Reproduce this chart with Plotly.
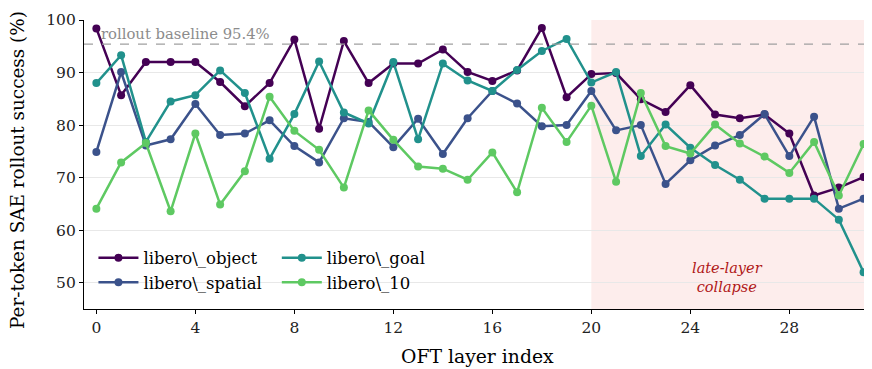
import plotly.graph_objects as go

layers = list(range(32))
libero_object = [98.4, 85.7, 92.0, 92.0, 92.0, 88.2, 83.6, 88.0, 96.3, 79.3, 96.0, 88.0,
                 91.7, 91.7, 94.4, 90.1, 88.4, 90.4, 98.5, 85.3, 89.7, 89.9, 84.9, 82.5,
                 87.6, 82.0, 81.3, 82.0, 78.4, 66.6, 68.1, 70.1]
libero_spatial = [74.9, 90.1, 76.1, 77.3, 84.0, 78.1, 78.4, 80.9, 76.0, 72.9, 81.3, 80.6,
                  75.8, 81.2, 74.5, 81.3, 86.5, 84.1, 79.8, 80.0, 86.5, 79.0, 80.0, 68.8,
                  73.3, 76.1, 78.1, 82.1, 74.1, 81.6, 64.1, 66.0]
libero_goal = [88.0, 93.3, 76.8, 84.5, 85.7, 90.4, 86.1, 73.6, 82.1, 92.1, 82.4, 80.3,
               92.0, 77.3, 91.7, 88.5, 86.5, 90.5, 94.1, 96.4, 88.1, 90.1, 74.1, 80.1,
               75.7, 72.4, 69.6, 66.0, 66.0, 66.0, 62.0, 52.0]
libero_10 = [64.1, 72.9, 76.6, 63.6, 78.4, 64.9, 71.2, 85.4, 78.9, 75.3, 68.1, 82.8,
             77.2, 72.1, 71.7, 69.6, 74.8, 67.2, 83.3, 76.8, 83.7, 69.2, 86.1, 76.0,
             74.6, 80.1, 76.5, 74.0, 70.9, 76.8, 66.6, 76.4]

series = [("libero\\_object", libero_object, "#440154", "legend"),
          ("libero\\_spatial", libero_spatial, "#3b528b", "legend"),
          ("libero\\_goal", libero_goal, "#21918c", "legend2"),
          ("libero\\_10", libero_10, "#5ec962", "legend2")]

baseline = 95.4
collapse_start, collapse_end = 20, 31.05
x_ticks = [0, 4, 8, 12, 16, 20, 24, 28]
y_ticks = [50, 60, 70, 80, 90, 100]

FONT = "DejaVu Serif"
fig = go.Figure()
for name, vals, col, lg in series:
    fig.add_trace(go.Scatter(x=layers, y=vals, mode="lines+markers", name=name,
                             line=dict(color=col, width=2.5),
                             marker=dict(color=col, size=8), legend=lg))

fig.add_shape(type="rect", xref="x", yref="paper", x0=collapse_start, x1=collapse_end,
              y0=0, y1=1, fillcolor="rgba(235,90,80,0.11)", line=dict(width=0), layer="below")
fig.add_shape(type="line", xref="paper", yref="y", x0=0, x1=1, y0=baseline, y1=baseline,
              line=dict(color="#a0a0a0", width=1.3, dash="dash"))
fig.add_annotation(x=0.12, y=baseline, xref="x", yref="y", text=f"rollout baseline {baseline}%",
                   showarrow=False, xanchor="left", yanchor="bottom",
                   font=dict(family=FONT, size=14.8, color="#8c8c8c"), yshift=0)
fig.add_annotation(x=25.5, y=51.0, xref="x", yref="y", text="<i>late-layer<br>collapse</i>",
                   showarrow=False, xanchor="center", yanchor="middle",
                   font=dict(family=FONT, size=14.5, color="#b01818"))
# axis titles
fig.add_annotation(x=0.5, y=-0.163, xref="paper", yref="paper", text="OFT layer index",
                   showarrow=False, xanchor="center", yanchor="middle",
                   font=dict(family=FONT, size=18.8, color="black"))
fig.add_annotation(x=-0.0839, y=0.481, xref="paper", yref="paper",
                   text="Per-token SAE rollout success (%)", textangle=-90,
                   showarrow=False, xanchor="center", yanchor="middle",
                   font=dict(family=FONT, size=18.4, color="black"))

legend_common = dict(orientation="v", xanchor="left", yanchor="middle",
                     bgcolor="rgba(255,255,255,0)", font=dict(family=FONT, size=16.5),
                     tracegroupgap=0, itemwidth=40)
fig.update_layout(
    width=872, height=369,
    margin=dict(l=76, r=9, t=12, b=68),
    paper_bgcolor="white", plot_bgcolor="white",
    font=dict(family=FONT, color="black"),
    showlegend=True,
    legend=dict(x=0.012, y=0.135, **legend_common),
    legend2=dict(x=0.245, y=0.135, **legend_common),
    xaxis=dict(range=[-0.5, 31.3], tickvals=x_ticks, ticks="outside", ticklen=4,
               tickcolor="black", showline=True, linecolor="black", linewidth=1.3,
               showgrid=False, zeroline=False, automargin=False,
               tickfont=dict(family=FONT, size=15.5, color="#222")),
    yaxis=dict(range=[45, 100], tickvals=y_ticks, ticks="outside", ticklen=4,
               tickcolor="black", showline=True, linecolor="black", linewidth=1.3,
               showgrid=True, gridcolor="#e8e8e8", gridwidth=1, zeroline=False,
               automargin=False, tickfont=dict(family=FONT, size=15.5, color="#222")),
)
fig.write_html("out.html")
